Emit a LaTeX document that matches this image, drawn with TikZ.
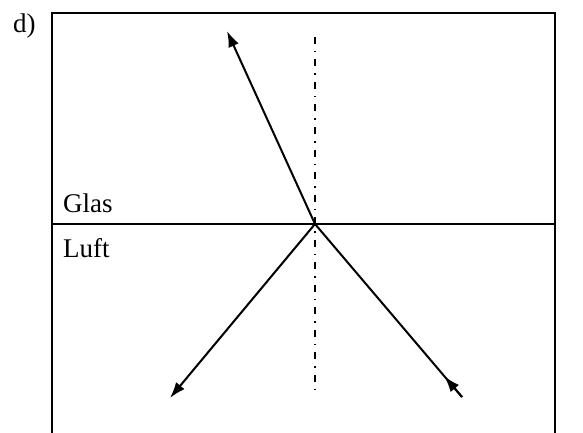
\documentclass[tikz,border=0pt]{standalone}
\usepackage{fontspec}
\setmainfont{Liberation Serif}
\usepackage{tikz}
\usetikzlibrary{arrows.meta, calc, positioning}

\tikzset{
  ray/.style={line width=2pt, -{Latex[length=16pt, width=11pt]}},
  normalline/.style={line width=1.2pt, dash pattern=on 7pt off 7pt on 1.5pt off 7pt},
  medium/.style={font=\fontsize{27}{32}\selectfont, anchor=base west, inner sep=0pt}
}

\begin{document}
\begin{tikzpicture}[x=1pt, y=-1pt]
  \useasboundingbox (0,0) rectangle (583,433);

  % Frame and interface
  \draw[line width=2.2pt] (52,433) -- (52,13) -- (555,13) -- (555,433);
  \coordinate (O) at (315,224);
  \coordinate (left) at (52,224);
  \coordinate (right) at (555,224);
  \draw[line width=2pt] (left) -- (right);

  % Normal
  \coordinate (ntop) at (315,37);
  \coordinate (nbot) at (315,396);
  \draw[normalline] (ntop) -- (nbot);

  % Labels
  \node[medium] (lab) at (13,33) {d)};
  \node[medium] (glas) at (63,212) {Glas};
  \node[medium] (luft) at (63,257) {Luft};

  % Rays
  \coordinate (in) at (462,397);
  \coordinate (up) at (227,31);
  \coordinate (down) at (170,398);
  \draw[ray] (O) -- (up);
  \draw[ray] (O) -- (down);
  \draw[line width=2pt] (in) -- (O);
  \draw[ray] (in) -- ($(in)!0.12!(O)$);
\end{tikzpicture}
\end{document}
